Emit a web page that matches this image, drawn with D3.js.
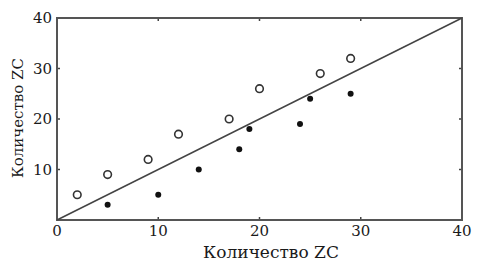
<!DOCTYPE html>
<html>
<head>
<meta charset="utf-8">
<script src="https://cdn.jsdelivr.net/npm/d3@7"></script>
<style>
  body { margin: 0; background: #fff; }
</style>
</head>
<body>
<div id="chart"></div>
<script>
// Data
const openX = [2, 5, 9, 12, 17, 20, 26, 29];
const openY = [5, 9, 12, 17, 20, 26, 29, 32];
const filledX = [5, 10, 14, 18, 19, 24, 25, 29];
const filledY = [3, 5, 10, 14, 18, 19, 24, 25];
const lineX = [0, 40];
const lineY = [0, 40];
const xTicks = [0, 10, 20, 30, 40];
const yTicks = [10, 20, 30, 40];
const axisTitle = "Количество ZC";

const W = 481, H = 266;
const margin = { top: 18, right: 19, bottom: 46, left: 57 };
const width = W - margin.left - margin.right;
const height = H - margin.top - margin.bottom;
const serif = "'DejaVu Serif', 'Liberation Serif', serif";

const svg = d3.select("#chart").append("svg")
    .attr("width", W)
    .attr("height", H)
    .attr("font-family", serif);

const g = svg.append("g")
    .attr("transform", `translate(${margin.left},${margin.top})`);

const x = d3.scaleLinear().domain([0, 40]).range([0, width]);
const y = d3.scaleLinear().domain([0, 40]).range([height, 0]);

// inner tick marks on all four sides
const inner = [10, 20, 30];
g.selectAll(".tb").data(inner).enter().append("line")
    .attr("x1", d => x(d)).attr("x2", d => x(d))
    .attr("y1", height).attr("y2", height - 3)
    .attr("stroke", "#444").attr("stroke-width", 1.5);
g.selectAll(".tt").data(inner).enter().append("line")
    .attr("x1", d => x(d)).attr("x2", d => x(d))
    .attr("y1", 0).attr("y2", 3)
    .attr("stroke", "#444").attr("stroke-width", 1.5);
g.selectAll(".tl").data(inner).enter().append("line")
    .attr("x1", 0).attr("x2", 3)
    .attr("y1", d => y(d)).attr("y2", d => y(d))
    .attr("stroke", "#444").attr("stroke-width", 1.5);
g.selectAll(".tr").data(inner).enter().append("line")
    .attr("x1", width).attr("x2", width - 3)
    .attr("y1", d => y(d)).attr("y2", d => y(d))
    .attr("stroke", "#444").attr("stroke-width", 1.5);

// frame
g.append("rect")
    .attr("width", width).attr("height", height)
    .attr("fill", "none").attr("stroke", "#555").attr("stroke-width", 2);

// tick labels
g.selectAll(".xl").data(xTicks).enter().append("text")
    .attr("x", d => x(d)).attr("y", height + 16)
    .attr("text-anchor", "middle")
    .attr("fill", "#1a1a1a")
    .style("font-size", "15px")
    .text(d => d);
g.selectAll(".yl").data(yTicks).enter().append("text")
    .attr("x", -5).attr("y", d => y(d)).attr("dy", "0.35em")
    .attr("text-anchor", "end")
    .attr("fill", "#1a1a1a")
    .style("font-size", "15px")
    .text(d => d);

// diagonal line
g.append("line")
    .attr("x1", x(lineX[0])).attr("y1", y(lineY[0]))
    .attr("x2", x(lineX[1])).attr("y2", y(lineY[1]))
    .attr("stroke", "#444").attr("stroke-width", 1.5);

// open circles
g.selectAll(".open").data(openX).enter().append("circle")
    .attr("cx", d => x(d)).attr("cy", (d, i) => y(openY[i]))
    .attr("r", 3.8)
    .attr("fill", "#fff").attr("stroke", "#333").attr("stroke-width", 1.6);

// filled dots
g.selectAll(".filled").data(filledX).enter().append("circle")
    .attr("cx", d => x(d)).attr("cy", (d, i) => y(filledY[i]))
    .attr("r", 3)
    .attr("fill", "#111");

// axis titles
svg.append("text")
    .attr("x", 271).attr("y", 258)
    .attr("text-anchor", "middle")
    .attr("fill", "#1a1a1a")
    .style("font-size", "17px")
    .text(axisTitle);
svg.append("text")
    .attr("transform", `translate(23,118) rotate(-90)`)
    .attr("text-anchor", "middle")
    .attr("fill", "#1a1a1a")
    .style("font-size", "15px")
    .text(axisTitle);
</script>
</body>
</html>
